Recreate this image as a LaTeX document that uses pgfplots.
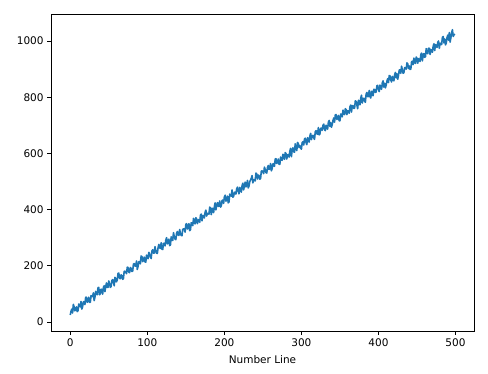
\documentclass[border=0pt]{standalone}
\usepackage{pgfplots}
\pgfplotsset{compat=1.18}
\usepackage{fontspec}
\setmainfont{DejaVu Sans}
\definecolor{mplblue}{HTML}{1F77B4}
\begin{document}
\fontsize{10.5}{12.6}\selectfont
\begin{tikzpicture}[x=1pt,y=1pt]
\path[use as bounding box] (0,0) rectangle (488,373);
\begin{axis}[
  at={(51pt,42pt)}, anchor=south west,
  scale only axis, width=423pt, height=317pt,
  xmin=-25, xmax=524, ymin=-32, ymax=1096,
  xtick={0,100,200,300,400,500},
  ytick={0,200,400,600,800,1000},
  tick align=outside, xtick pos=bottom, ytick pos=left,
  major tick length=3.7pt,
  every tick/.style={black, line width=0.8pt},
  axis line style={line width=0.8pt},
  /pgf/number format/assume math mode=true,
  /pgf/number format/1000 sep={},
  ticklabel style={font=\fontsize{10.5}{12.6}\selectfont},
  xlabel={Number Line},
  xlabel style={font=\fontsize{10.5}{12.6}\selectfont, yshift=-2pt},
  clip=true,
]
\addplot[mplblue, line width=1.6pt, line join=round] coordinates {
(0,25)(1,38)(2,46)(3,32)(4,63)(5,54)(6,40)(7,45)(8,54)(9,37)
(10,40)(11,64)(12,57)(13,54)(14,73)(15,46)(16,54)(17,72)(18,72)(19,62)
(20,88)(21,88)(22,70)(23,75)(24,88)(25,70)(26,70)(27,94)(28,91)(29,90)
(30,104)(31,76)(32,88)(33,109)(34,100)(35,97)(36,122)(37,123)(38,97)(39,101)
(40,117)(41,112)(42,99)(43,123)(44,129)(45,108)(46,126)(47,139)(48,123)(49,123)
(50,146)(51,136)(52,123)(53,127)(54,147)(55,151)(56,142)(57,129)(58,159)(59,154)
(60,143)(61,150)(62,173)(63,174)(64,156)(65,154)(66,168)(67,165)(68,152)(69,155)
(70,180)(71,181)(72,177)(73,172)(74,195)(75,194)(76,177)(77,176)(78,194)(79,191)
(80,180)(81,181)(82,206)(83,208)(84,199)(85,199)(86,217)(87,187)(88,198)(89,215)
(90,215)(91,207)(92,235)(93,233)(94,215)(95,220)(96,231)(97,214)(98,213)(99,238)
(100,234)(101,225)(102,248)(103,241)(104,232)(105,226)(106,253)(107,257)(108,245)(109,245)
(110,268)(111,254)(112,245)(113,244)(114,265)(115,276)(116,264)(117,262)(118,282)(119,259)
(120,258)(121,280)(122,280)(123,271)(124,291)(125,300)(126,278)(127,285)(128,295)(129,272)
(130,274)(131,303)(132,297)(133,290)(134,318)(135,304)(136,295)(137,293)(138,316)(139,322)
(140,310)(141,308)(142,329)(143,315)(144,308)(145,307)(146,330)(147,331)(148,331)(149,320)
(150,347)(151,350)(152,331)(153,334)(154,350)(155,325)(156,328)(157,353)(158,352)(159,343)
(160,369)(161,354)(162,349)(163,371)(164,367)(165,350)(166,364)(167,364)(168,355)(169,380)
(170,384)(171,360)(172,378)(173,379)(174,370)(175,390)(176,398)(177,377)(178,387)(179,385)
(180,384)(181,409)(182,405)(183,382)(184,405)(185,401)(186,389)(187,410)(188,424)(189,399)
(190,413)(191,425)(192,412)(193,412)(194,431)(195,409)(196,413)(197,432)(198,434)(199,422)
(200,445)(201,451)(202,430)(203,434)(204,448)(205,424)(206,427)(207,455)(208,452)(209,448)
(210,470)(211,444)(212,447)(213,461)(214,462)(215,455)(216,474)(217,480)(218,465)(219,456)
(220,479)(221,474)(222,462)(223,485)(224,494)(225,470)(226,484)(227,498)(228,481)(229,485)
(230,504)(231,477)(232,484)(233,500)(234,505)(235,512)(236,521)(237,495)(238,506)(239,507)
(240,502)(241,530)(242,527)(243,509)(244,523)(245,521)(246,508)(247,511)(248,537)(249,538)
(250,533)(251,528)(252,551)(253,543)(254,532)(255,530)(256,550)(257,557)(258,543)(259,546)
(260,564)(261,538)(262,545)(263,562)(264,564)(265,554)(266,580)(267,581)(268,564)(269,568)
(270,580)(271,561)(272,561)(273,587)(274,582)(275,575)(276,597)(277,587)(278,579)(279,603)
(280,599)(281,580)(282,595)(283,595)(284,587)(285,608)(286,618)(287,588)(288,611)(289,620)
(290,606)(291,604)(292,634)(293,618)(294,610)(295,639)(296,634)(297,621)(298,628)(299,619)
(300,615)(301,639)(302,641)(303,630)(304,651)(305,654)(306,639)(307,631)(308,656)(309,648)
(310,640)(311,662)(312,671)(313,649)(314,662)(315,664)(316,656)(317,650)(318,677)(319,681)
(320,670)(321,668)(322,692)(323,666)(324,669)(325,689)(326,690)(327,682)(328,700)(329,704)
(330,685)(331,681)(332,700)(333,697)(334,686)(335,711)(336,717)(337,696)(338,709)(339,693)
(340,703)(341,717)(342,726)(343,711)(344,737)(345,738)(346,721)(347,723)(348,735)(349,716)
(350,716)(351,740)(352,739)(353,730)(354,754)(355,742)(356,738)(357,759)(358,756)(359,738)
(360,752)(361,749)(362,743)(363,766)(364,772)(365,747)(366,769)(367,770)(368,760)(369,761)
(370,787)(371,785)(372,772)(373,759)(374,789)(375,780)(376,773)(377,796)(378,807)(379,779)
(380,794)(381,796)(382,786)(383,782)(384,811)(385,817)(386,802)(387,802)(388,824)(389,802)
(390,797)(391,821)(392,820)(393,805)(394,828)(395,827)(396,817)(397,819)(398,841)(399,842)
(400,827)(401,820)(402,843)(403,837)(404,828)(405,851)(406,858)(407,836)(408,849)(409,833)
(410,843)(411,857)(412,866)(413,852)(414,877)(415,876)(416,861)(417,854)(418,874)(419,867)
(420,858)(421,880)(422,888)(423,869)(424,883)(425,864)(426,878)(427,897)(428,897)(429,885)
(430,910)(431,898)(432,885)(433,887)(434,905)(435,903)(436,900)(437,922)(438,919)(439,902)
(440,911)(441,899)(442,900)(443,926)(444,928)(445,916)(446,939)(447,925)(448,920)(449,943)
(450,938)(451,921)(452,937)(453,934)(454,927)(455,952)(456,957)(457,929)(458,952)(459,955)
(460,942)(461,944)(462,973)(463,956)(464,955)(465,974)(466,974)(467,952)(468,970)(469,963)
(470,960)(471,981)(472,990)(473,966)(474,987)(475,982)(476,977)(477,995)(478,1000)(479,974)
(480,992)(481,991)(482,987)(483,1013)(484,1016)(485,993)(486,1007)(487,986)(488,993)(489,1012)
(490,1021)(491,1003)(492,1030)(493,996)(494,1012)(495,1029)(496,1040)(497,1016)(498,1022)(499,1025)
};
\end{axis}
\end{tikzpicture}
\end{document}
